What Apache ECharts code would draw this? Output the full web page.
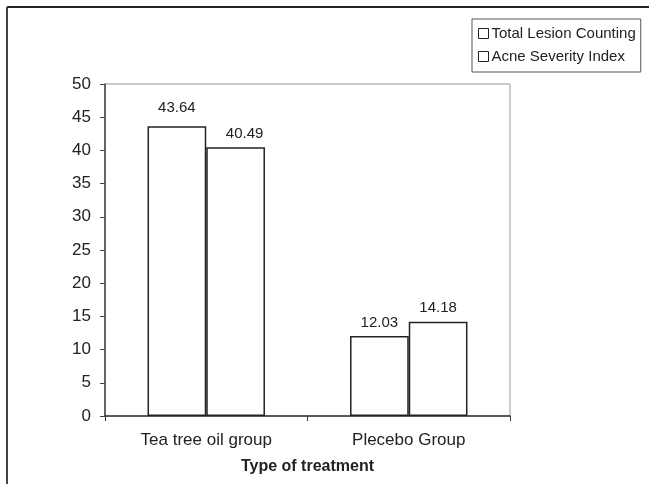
<!DOCTYPE html>
<html>
<head>
<meta charset="utf-8">
<script src="https://cdn.jsdelivr.net/npm/echarts@6/dist/echarts.min.js"></script>
<style>
html,body{margin:0;padding:0;background:#fff;}
#c{width:649px;height:484px;}
</style>
</head>
<body>
<div id="c"></div>
<script>
var categories = ['Tea tree oil group', 'Plecebo Group'];
var seriesNames = ['Total Lesion Counting', 'Acne Severity Index'];
var totalLesion = [43.64, 12.03];
var acneSeverity = [40.49, 14.18];
var yTicks = [0, 5, 10, 15, 20, 25, 30, 35, 40, 45, 50];

// label placement tweaks (per series, per category) to mimic the original layout
var labelTweaks = [
  [{distance: 11}, {}],
  [{offset: [9, 0]}, {}]
];

var chart = echarts.init(document.getElementById('c'), null, {renderer: 'canvas'});
var font = 'Liberation Sans, Arial, sans-serif';
function barSeries(idx, name, values) {
  return {
    name: name,
    type: 'bar',
    data: values.map(function (v, i) {
      return {value: v, label: labelTweaks[idx][i]};
    }),
    barGap: '0%',
    barCategoryGap: '42%',
    itemStyle: {color: '#fff', borderColor: '#222', borderWidth: 1.5},
    label: {show: true, position: 'top', distance: 6, color: '#222', fontSize: 15, fontFamily: font,
      formatter: function (p) { return p.value.toFixed(2); }},
    emphasis: {disabled: true}
  };
}
chart.setOption({
  animation: false,
  backgroundColor: '#fff',
  grid: {left: 105, right: 139, top: 84, bottom: 68, show: true, borderColor: '#999', borderWidth: 1},
  legend: {
    orient: 'vertical',
    left: 472, top: 19,
    padding: [7, 5, 8, 6],
    itemGap: 8,
    itemWidth: 10, itemHeight: 10,
    icon: 'rect',
    borderColor: '#555', borderWidth: 1,
    textStyle: {fontSize: 15, fontFamily: font, color: '#222', padding: [0, 0, 0, -2]},
    data: seriesNames,
    itemStyle: {color: '#fff', borderColor: '#222', borderWidth: 1}
  },
  xAxis: {
    type: 'category',
    data: categories,
    axisLine: {lineStyle: {color: '#333', width: 1.5}},
    axisTick: {show: true, length: 5, alignWithLabel: false, lineStyle: {color: '#333'}},
    axisLabel: {fontSize: 17, fontFamily: font, color: '#222', margin: 16},
    name: 'Type of treatment',
    nameLocation: 'middle',
    nameGap: 43,
    nameTextStyle: {fontSize: 16, fontWeight: 'bold', fontFamily: font, color: '#222'}
  },
  yAxis: {
    type: 'value',
    min: yTicks[0], max: yTicks[yTicks.length - 1], interval: yTicks[1] - yTicks[0],
    axisLine: {show: true, lineStyle: {color: '#444', width: 1.5}},
    axisTick: {show: true, length: 5, lineStyle: {color: '#444'}},
    axisLabel: {fontSize: 17, fontFamily: font, color: '#222', margin: 14},
    splitLine: {show: false}
  },
  series: [barSeries(0, seriesNames[0], totalLesion), barSeries(1, seriesNames[1], acneSeverity)],
  graphic: [
    {type: 'line', shape: {x1: 7, y1: 7, x2: 649, y2: 7}, style: {stroke: '#222', lineWidth: 2}},
    {type: 'line', shape: {x1: 7, y1: 7, x2: 7, y2: 484}, style: {stroke: '#444', lineWidth: 2}}
  ]
});
</script>
</body>
</html>
